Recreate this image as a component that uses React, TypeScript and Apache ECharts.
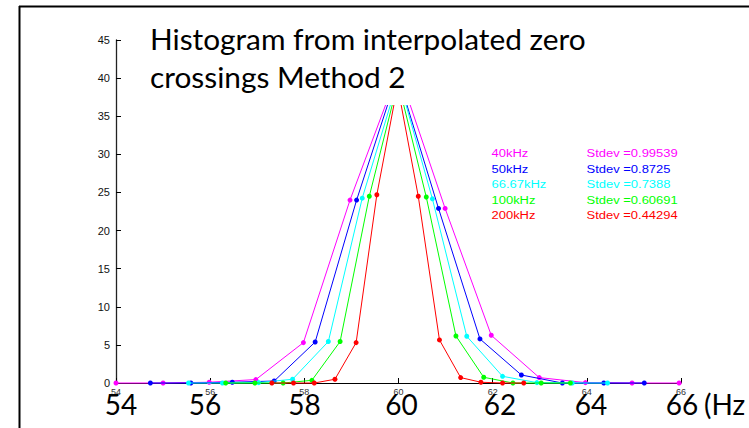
import React, { useEffect, useRef } from "react";
import * as echarts from "echarts";

// ---- data ----
const seriesNames = ["40kHz", "50kHz", "66.67kHz", "100kHz", "200kHz"];
const stdevTexts = ["Stdev =0.99539", "Stdev =0.8725", "Stdev =0.7388", "Stdev =0.60691", "Stdev =0.44294"];

const x40 = [54.0, 55.0, 55.98, 56.97, 57.98, 58.97, 60.0, 60.99, 61.97, 62.99, 63.97, 64.96, 65.96];
const y40 = [0, 0, 0.1, 0.45, 5.3, 24.0, 41, 22.9, 6.26, 0.71, 0.05, 0, 0];

const x50 = [54.73, 55.59, 56.47, 57.36, 58.23, 59.11, 59.98, 60.85, 61.73, 62.61, 63.48, 64.36, 65.22];
const y50 = [0, 0, 0.1, 0.26, 5.38, 24.0, 40.5, 22.9, 5.78, 1.05, 0, 0, 0];

const x66 = [55.54, 56.26, 57.03, 57.75, 58.51, 59.23, 60.0, 60.72, 61.45, 62.21, 62.94, 63.69, 64.44];
const y66 = [0, 0, 0.05, 0.49, 5.44, 24.25, 40, 24.16, 6.13, 0.88, 0.05, 0, 0];

const x100 = [56.33, 56.95, 57.55, 58.16, 58.76, 59.38, 59.99, 60.59, 61.22, 61.81, 62.43, 63.03, 63.65];
const y100 = [0, 0, 0, 0.35, 5.44, 24.5, 39.5, 24.4, 6.17, 0.75, 0, 0, 0];

const x200 = [57.31, 57.77, 58.21, 58.65, 59.1, 59.54, 59.98, 60.42, 60.87, 61.32, 61.75, 62.21, 62.66];
const y200 = [0, 0, 0, 0.49, 5.3, 24.7, 39, 24.5, 5.65, 0.71, 0.1, 0, 0];

const xTicks = [54, 56, 58, 60, 62, 64, 66];
const titleLines = ["Histogram from interpolated zero", "crossings Method 2"];

// ---- styles ----
const colors = ["#ff00ff", "#0000ff", "#00ffff", "#00ff00", "#ff0000"];
const bigLabelX = [121, 205, 304.5, 401.5, 500, 591, 682];

export default function App() {
  const ref = useRef<HTMLDivElement>(null);
  useEffect(() => {
    if (!ref.current) return;
    const chart = echarts.init(ref.current, null, { renderer: "svg" });
    const xs = [x40, x50, x66, x100, x200];
    const ys = [y40, y50, y66, y100, y200];

    const graphics: any[] = [];
    // slide border
    graphics.push({ type: "line", shape: { x1: 19, y1: 6.5, x2: 749, y2: 6.5 }, style: { stroke: "#000", lineWidth: 2 }, z: 200 });
    graphics.push({ type: "line", shape: { x1: 19.5, y1: 6, x2: 19.5, y2: 428 }, style: { stroke: "#000", lineWidth: 2 }, z: 200 });
    // white title box covering the peaks
    graphics.push({ type: "rect", shape: { x: 135, y: 12, width: 480, height: 93 }, style: { fill: "#fff" }, z: 100 });
    graphics.push({ type: "text", x: 150, y: 39, scaleX: 1.065, style: { text: titleLines[0], font: "28px Lato", fill: "#000", verticalAlign: "middle" }, z: 101 });
    graphics.push({ type: "text", x: 150, y: 76.5, scaleX: 1.065, style: { text: titleLines[1], font: "28px Lato", fill: "#000", verticalAlign: "middle" }, z: 101 });
    // legend
    const rowY = [153.3, 169, 184.3, 200, 215.3];
    seriesNames.forEach((n, i) => {
      graphics.push({ type: "text", x: 491.5, y: rowY[i], scaleX: 1.18, style: { text: n, font: "11px 'Liberation Sans'", fill: colors[i], verticalAlign: "middle" }, z: 101 });
      graphics.push({ type: "text", x: 586.5, y: rowY[i], scaleX: 1.18, style: { text: stdevTexts[i], font: "11px 'Liberation Sans'", fill: colors[i], verticalAlign: "middle" }, z: 101 });
    });
    // big x labels
    xTicks.forEach((t, i) => {
      graphics.push({ type: "text", x: bigLabelX[i], y: 404, style: { text: String(t), font: "28px Lato", fill: "#000", align: "center", verticalAlign: "middle" }, z: 101 });
    });
    graphics.push({ type: "text", x: 704, y: 404, style: { text: "(Hz", font: "28px Lato", fill: "#000", verticalAlign: "middle" }, z: 101 });

    chart.setOption({
      animation: false,
      backgroundColor: "#fff",
      grid: { left: 116, right: 68, top: 40, bottom: 45 },
      xAxis: {
        type: "value",
        min: 54,
        max: 66,
        interval: 2,
        axisLine: { show: true, onZero: false, lineStyle: { color: "#000", width: 1 } },
        axisTick: { show: true, inside: true, length: 5, lineStyle: { color: "#000" } },
        axisLabel: { show: true, fontSize: 9, color: "#333", margin: 4, fontFamily: "Liberation Sans" },
        splitLine: { show: false },
      },
      yAxis: {
        type: "value",
        min: 0,
        max: 45,
        interval: 5,
        axisLine: { show: true, lineStyle: { color: "#222", width: 1.3 } },
        axisTick: { show: true, inside: true, length: 5, lineStyle: { color: "#000" } },
        axisLabel: { fontSize: 11, color: "#111", margin: 6, fontFamily: "Liberation Sans" },
        splitLine: { show: false },
      },
      series: seriesNames.map((n, i) => ({
        name: n,
        type: "line",
        data: xs[i].map((x, j) => [x, ys[i][j]]),
        symbol: "circle",
        symbolSize: 5,
        showSymbol: true,
        clip: false,
        lineStyle: { color: colors[i], width: 1 },
        itemStyle: { color: colors[i] },
        z: 3 + i,
      })),
      graphic: graphics,
    });
    return () => chart.dispose();
  }, []);
  return <div ref={ref} style={{ position: "absolute", left: 0, top: 0, width: 749, height: 428 }} />;
}
